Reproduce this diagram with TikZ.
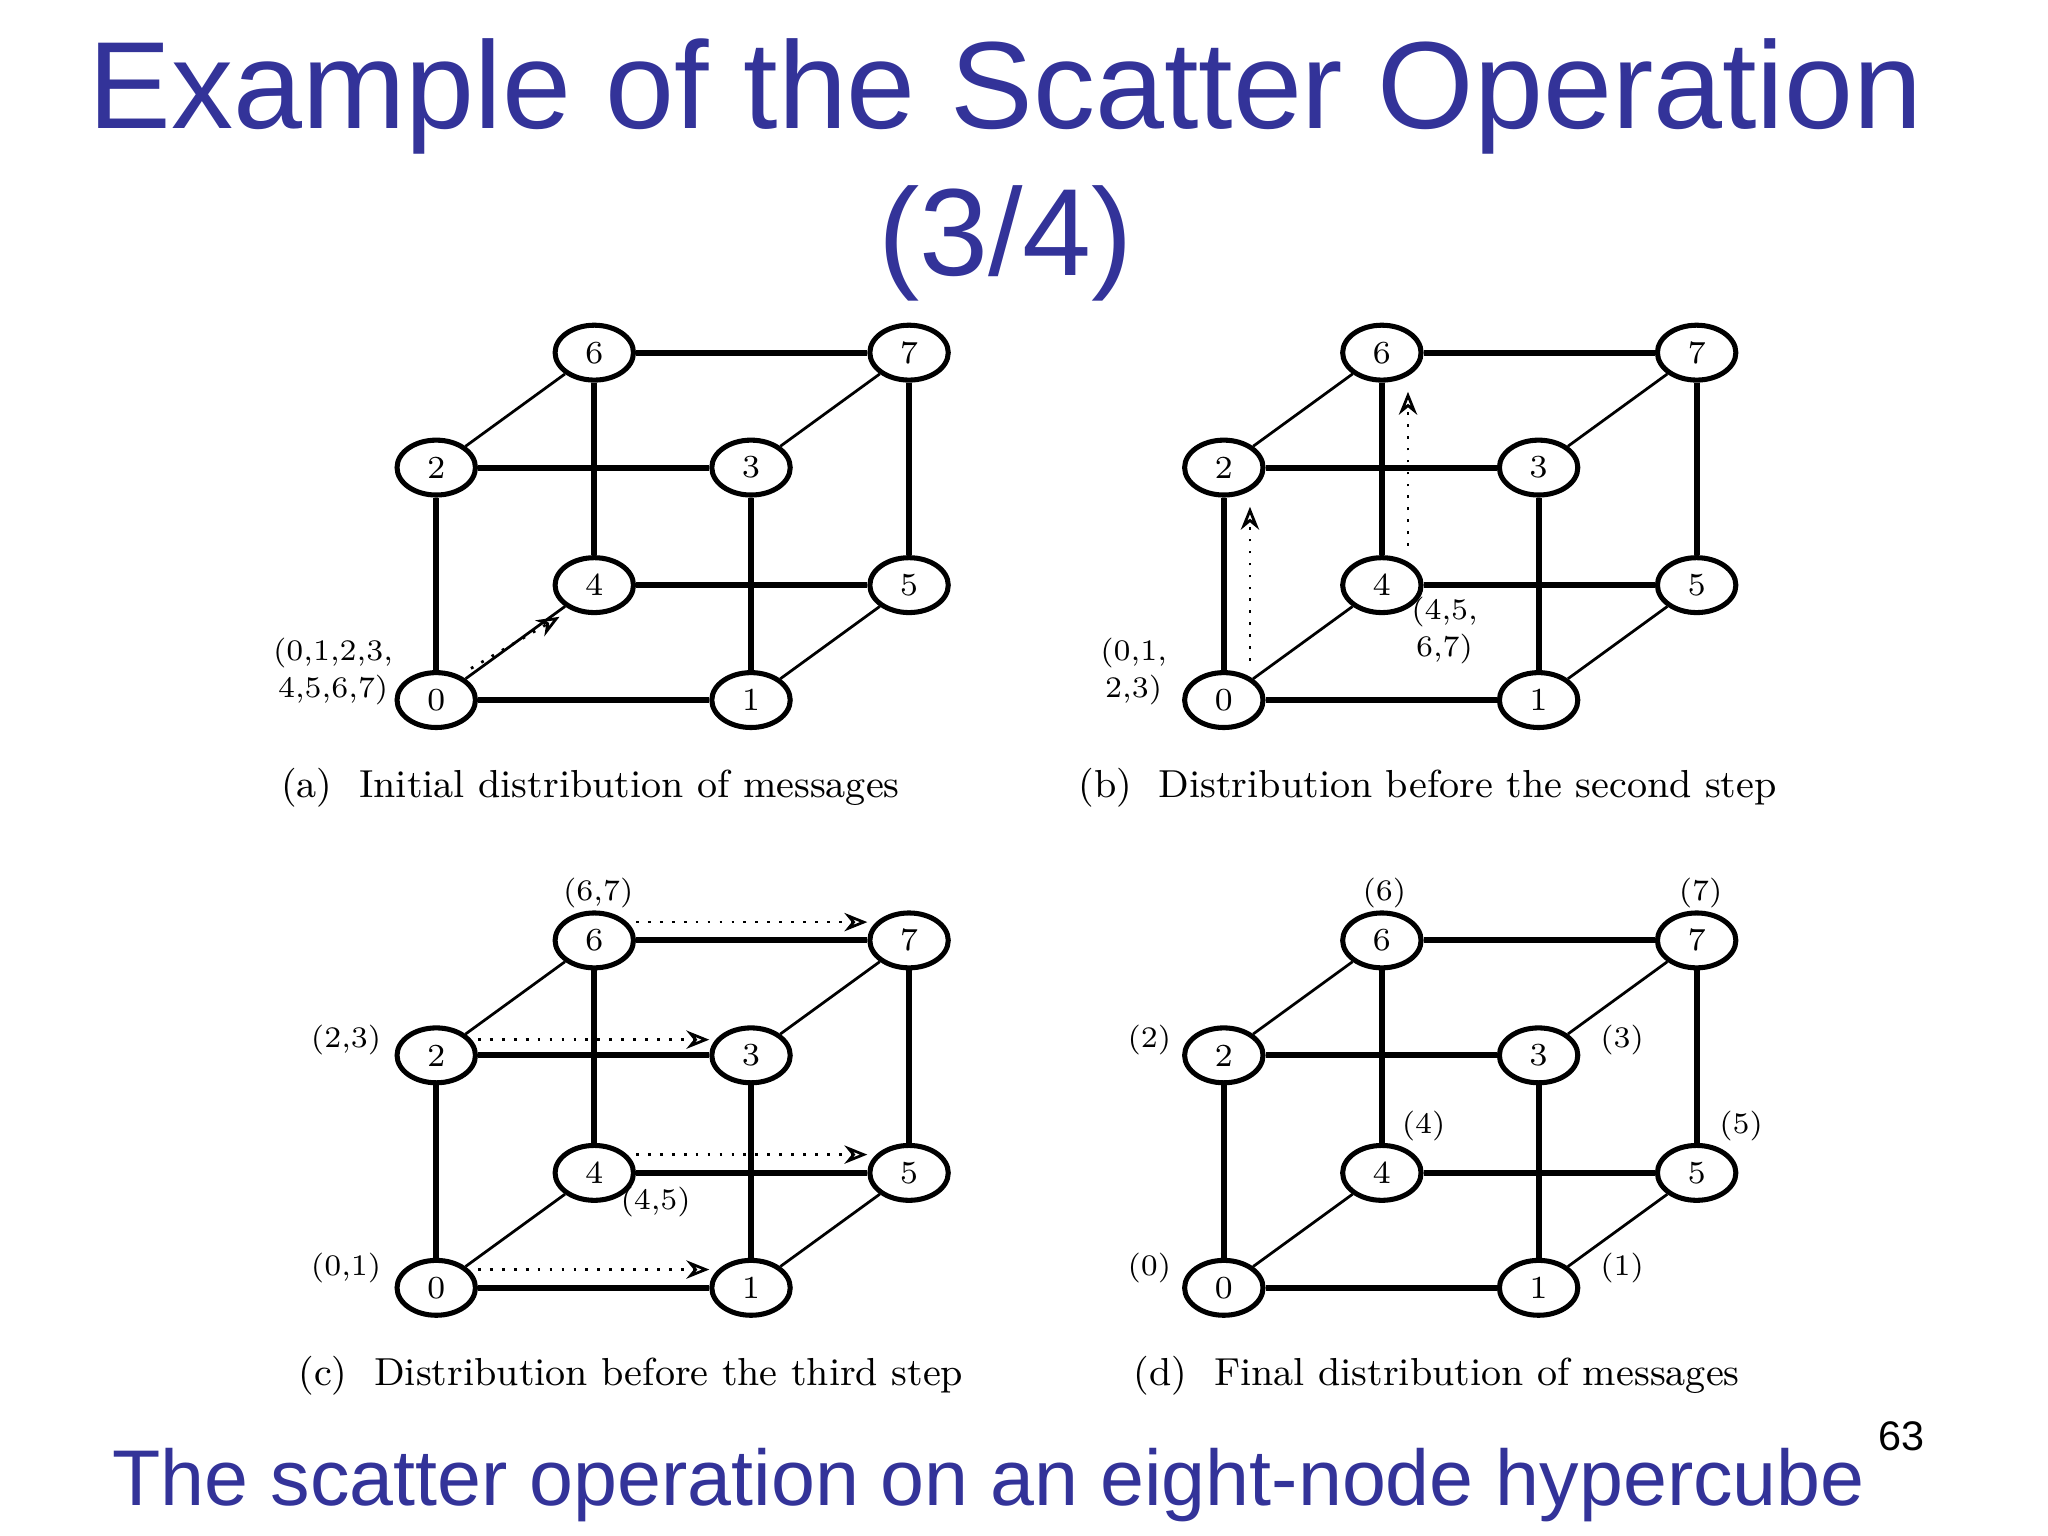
\documentclass[tikz,border=0pt]{standalone}
\usepackage{fontspec}
\newfontfamily\titlefont{Liberation Sans}
\usetikzlibrary{shapes.geometric,arrows.meta}
\definecolor{ttl}{RGB}{51,51,153}
\tikzset{
 cn/.style={ellipse,draw,line width=1.1pt,minimum width=0.6cm,minimum height=0.42cm,inner sep=0pt,font=\fontsize{7}{8}\selectfont,fill=white},
 thk/.style={line width=1.3pt},
 thn/.style={line width=0.6pt},
 msg/.style={dotted,line width=0.6pt,-{Stealth[open,length=5pt,width=4pt]}},
 lab/.style={font=\fontsize{6.5}{8}\selectfont,align=center,inner sep=1pt},
 captext/.style={font=\fontsize{8.5}{10}\selectfont}
}
\newcommand{\cube}[3]{%
 \begin{scope}[shift={(#1,#2)}]
 \node[cn] (#3n0) at (334,536) {0};
 \node[cn] (#3n1) at (575,536) {1};
 \node[cn] (#3n2) at (334,358) {2};
 \node[cn] (#3n3) at (575,358) {3};
 \node[cn] (#3n4) at (455,448) {4};
 \node[cn] (#3n5) at (696,448) {5};
 \node[cn] (#3n6) at (455,270) {6};
 \node[cn] (#3n7) at (696,270) {7};
 \draw[thk] (#3n0)--(#3n1) (#3n0)--(#3n2) (#3n2)--(#3n3) (#3n1)--(#3n3)
   (#3n4)--(#3n5) (#3n4)--(#3n6) (#3n6)--(#3n7) (#3n5)--(#3n7);
 \draw[thn] (#3n0)--(#3n4) (#3n1)--(#3n5) (#3n2)--(#3n6) (#3n3)--(#3n7);
 \end{scope}}
\begin{document}
\begin{tikzpicture}[x=0.01cm,y=-0.01cm]
\useasboundingbox (0,0) rectangle (1568,1176);
\fill[white] (0,0) rectangle (1568,1176);
\node[text=ttl,font=\titlefont\fontsize{27}{32}\selectfont,align=center] (title) at (770,130) {Example of the Scatter Operation\\(3/4)};
\cube{0}{0}{a}
\cube{603}{0}{b}
\cube{0}{450}{c}
\cube{603}{450}{d}
% (a)
\draw[msg] ([shift={(4,-8)}]an0.north east) -- ([shift={(-4,8)}]an4.south west);
\node[lab,align=left] (la) at (255,514) {(0,1,2,3,\\\,4,5,6,7)};
\node[captext] (ca) at (452,603) {(a)\ \ Initial distribution of messages};
% (b)
\draw[msg] ([xshift=0.2cm,yshift=2pt]bn0.north) -- ([xshift=0.2cm,yshift=-2pt]bn2.south);
\draw[msg] ([xshift=0.2cm,yshift=2pt]bn4.north) -- ([xshift=0.2cm,yshift=-2pt]bn6.south);
\node[lab] (lb0) at (868,514) {(0,1,\\2,3)};
\node[lab] (lb4) at (1106,483) {(4,5,\\6,7)};
\node[captext] (cb) at (1093,603) {(b)\ \ Distribution before the second step};
% (c)
\draw[msg] ([shift={(0,-14)}]cn6.east) -- ([shift={(0,-14)}]cn7.west);
\draw[msg] ([shift={(0,-12)}]cn2.east) -- ([shift={(0,-12)}]cn3.west);
\draw[msg] ([shift={(0,-14)}]cn4.east) -- ([shift={(0,-14)}]cn5.west);
\draw[msg] ([shift={(0,-14)}]cn0.east) -- ([shift={(0,-14)}]cn1.west);
\node[lab] (lc6) at (458,684) {(6,7)};
\node[lab] (lc2) at (265,796) {(2,3)};
\node[lab] (lc4) at (502,920) {(4,5)};
\node[lab] (lc0) at (265,971) {(0,1)};
\node[captext] (cc) at (483,1053) {(c)\ \ Distribution before the third step};
% (d)
\node[lab] (ld6) at (1060,684) {(6)};
\node[lab] (ld7) at (1302,684) {(7)};
\node[lab] (ld2) at (880,796) {(2)};
\node[lab] (ld3) at (1242,796) {(3)};
\node[lab] (ld4) at (1090,862) {(4)};
\node[lab] (ld5) at (1333,862) {(5)};
\node[lab] (ld0) at (880,971) {(0)};
\node[lab] (ld1) at (1242,971) {(1)};
\node[captext] (cd) at (1100,1053) {(d)\ \ Final distribution of messages};
\node[text=ttl,font=\titlefont\fontsize{17.2}{20}\selectfont] (sub) at (757,1137) {The scatter operation on an eight-node hypercube};
\node[font=\titlefont\fontsize{9}{11}\selectfont] (pg) at (1456,1100) {63};
\end{tikzpicture}
\end{document}
